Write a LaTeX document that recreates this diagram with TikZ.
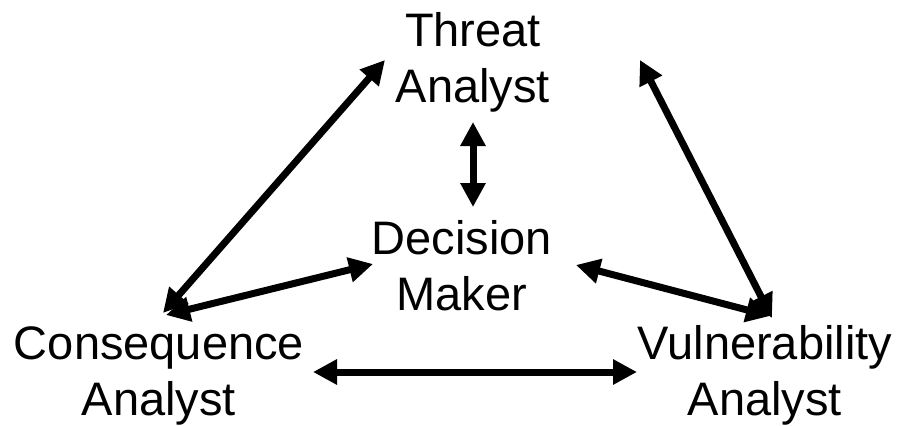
\documentclass[tikz,border=0pt]{standalone}
\usepackage{fontspec}
\setmainfont{Liberation Sans}
\usetikzlibrary{arrows.meta}
\begin{document}
\begin{tikzpicture}[x=1pt,y=-1pt,
  lbl/.style={align=center,anchor=base,inner sep=0pt,font=\fontsize{47}{56}\selectfont},
  link/.style={line width=7pt,{Triangle[length=24pt,width=24pt]}-{Triangle[length=24pt,width=24pt]}}]
\useasboundingbox (0,0) rectangle (903,426);
\node[lbl] (threat) at (473,102) {Threat\\Analyst};
\node[lbl] (dm) at (462,310) {Decision\\Maker};
\node[lbl] (cons) at (159,415) {Consequence\\Analyst};
\node[lbl] (vuln) at (765,415) {Vulnerability\\Analyst};
\coordinate (tL) at (385,60);
\coordinate (tR) at (640,60);
\coordinate (tD) at (473,122);
\coordinate (dT) at (473,207);
\coordinate (dL) at (373,264);
\coordinate (dR) at (576,265);
\coordinate (cT) at (163,313);
\coordinate (cD) at (166,315);
\coordinate (cV) at (313,372);
\coordinate (vT) at (772,318);
\coordinate (vD) at (770,316);
\coordinate (vC) at (637,372);
\draw[link] (cT) -- (tL);
\draw[link] (tR) -- (vT);
\draw[link] (tD) -- (dT);
\draw[link] (cD) -- (dL);
\draw[link] (dR) -- (vD);
\draw[link] (cV) -- (vC);
\end{tikzpicture}
\end{document}
